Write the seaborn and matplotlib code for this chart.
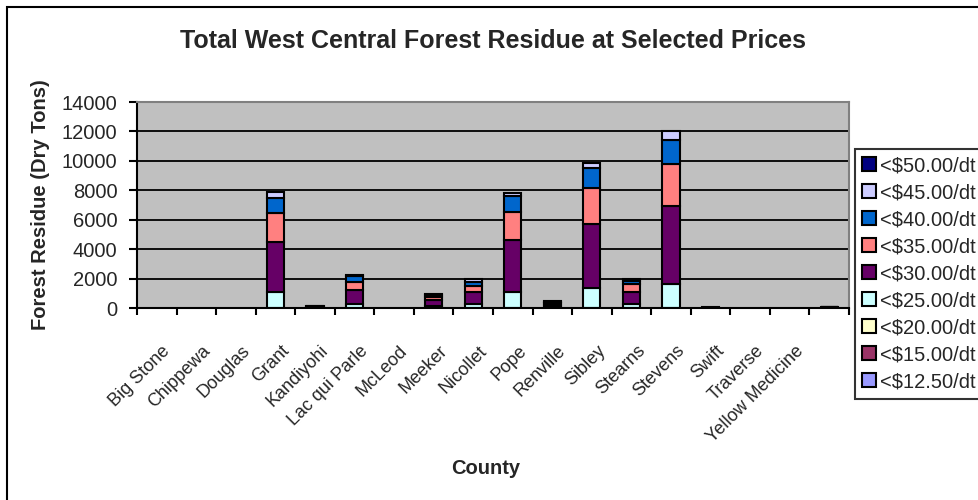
import numpy as np
import pandas as pd
import matplotlib
matplotlib.use("Agg")
import matplotlib.pyplot as plt
from matplotlib.patches import Patch, Rectangle
from matplotlib.transforms import ScaledTranslation
import seaborn as sns

# counties along x (last slot has no label in the original)
counties = ["Big Stone", "Chippewa", "Douglas", "Grant", "Kandiyohi",
            "Lac qui Parle", "McLeod", "Meeker", "Nicollet", "Pope",
            "Renville", "Sibley", "Stearns", "Stevens", "Swift",
            "Traverse", "Yellow Medicine", ""]

# price classes, top of stack first (same order as legend)
prices = ["<$50.00/dt", "<$45.00/dt", "<$40.00/dt", "<$35.00/dt",
          "<$30.00/dt", "<$25.00/dt", "<$20.00/dt", "<$15.00/dt",
          "<$12.50/dt"]
colors = ["#000080", "#CCCCFF", "#0066CC", "#FF8080", "#660066",
          "#CCFFFF", "#FFFFCC", "#993366", "#9999FF"]

# dry tons per county
tons_50 = [0, 0, 0, 0, 0, 0, 0, 0, 0, 0, 20, 0, 0, 0, 0, 0, 0, 0]
tons_45 = [0, 0, 0, 400, 10, 70, 0, 60, 200, 230, 40, 370, 110, 570, 0, 0, 0, 10]
tons_40 = [0, 0, 0, 1020, 10, 390, 0, 120, 230, 1080, 70, 1350, 220, 1650, 0, 0, 0, 10]
tons_35 = [0, 0, 0, 1970, 20, 560, 0, 200, 410, 1920, 90, 2470, 530, 2860, 10, 0, 0, 20]
tons_30 = [0, 0, 0, 3390, 40, 950, 0, 420, 830, 3510, 150, 4310, 830, 5310, 15, 0, 0, 30]
tons_25 = [0, 0, 0, 1080, 40, 270, 0, 130, 270, 1100, 80, 1380, 270, 1630, 15, 0, 0, 30]
tons_20 = [0, 0, 0, 0, 0, 0, 0, 0, 0, 0, 0, 0, 0, 0, 0, 0, 0, 0]
tons_15 = [0, 0, 0, 0, 0, 0, 0, 0, 0, 0, 0, 0, 0, 0, 0, 0, 0, 0]
tons_12 = [0, 0, 0, 0, 0, 0, 0, 0, 0, 0, 0, 0, 0, 0, 0, 0, 0, 0]

series = dict(zip(prices, [tons_50, tons_45, tons_40, tons_35, tons_30,
                           tons_25, tons_20, tons_15, tons_12]))
rows = []
for price, vals in series.items():
    for i, v in enumerate(vals):
        rows.append((i, price, v))
df = pd.DataFrame(rows, columns=["pos", "price", "tons"])

sns.set_style("white")
plt.rcParams["font.family"] = ["Liberation Sans", "DejaVu Sans"]

fig = plt.figure(figsize=(9.79, 5.0), dpi=100)
ax = fig.add_axes([137 / 979, 1 - 308 / 500, 712 / 979, 206 / 500])
ax.set_facecolor("#C0C0C0")

sns.histplot(data=df, x="pos", weights="tons", hue="price", hue_order=prices,
             multiple="stack", discrete=True, shrink=0.43,
             palette=dict(zip(prices, colors)), edgecolor="black",
             linewidth=1.5, alpha=1, legend=False, ax=ax)
for p in ax.patches:
    if p.get_height() == 0:
        p.set_visible(False)

ax.set_ylim(0, 14000)
ax.set_yticks(range(0, 14001, 2000))
ax.set_xlim(-0.5, 17.5)
ax.grid(axis="y", color="black", linewidth=1.3)
ax.grid(axis="x", visible=False)
ax.set_axisbelow(True)

for s in ["left", "bottom"]:
    ax.spines[s].set_color("black")
    ax.spines[s].set_linewidth(1.5)
for s in ["top", "right"]:
    ax.spines[s].set_color("#808080")
    ax.spines[s].set_linewidth(1.5)

ax.tick_params(axis="y", length=6, width=1.5, pad=8, labelsize=14.5,
               direction="out", left=True, color="black")
ax.set_xticks(np.arange(-0.5, 18, 1))
ax.set_xticklabels([])
ax.tick_params(axis="x", which="major", length=5, width=1.5,
               direction="out", bottom=True, color="black")
ax.set_xticks(range(18), minor=True)
ax.set_xticklabels(counties, minor=True, rotation=45, ha="right",
                   va="center", rotation_mode="anchor", fontsize=13)
ax.tick_params(axis="x", which="minor", length=0, pad=29)
for lab in ax.get_xticklabels(minor=True):
    lab.set_transform(lab.get_transform()
                      + ScaledTranslation(0.11, 0, fig.dpi_scale_trans))

ax.set_ylabel("Forest Residue (Dry Tons)", fontsize=14.5, fontweight="bold")
ax.yaxis.set_label_coords(-0.122, 0.5)
ax.set_xlabel("County", fontsize=14.5, fontweight="bold", va="top")
ax.xaxis.set_label_coords(0.49, -0.733)

fig.text(493 / 979, 1 - 41 / 500, "Total West Central Forest Residue at Selected Prices",
         ha="center", va="center", fontsize=18, fontweight="bold")

handles = [Patch(facecolor=c, edgecolor="black", linewidth=1.5) for c in colors]
leg = fig.legend(handles, prices, loc="upper left",
                 bbox_to_anchor=(855 / 979, 1 - 149 / 500), borderaxespad=0,
                 fontsize=14.5, frameon=True, fancybox=False,
                 handlelength=0.7, handleheight=0.7, handletextpad=0.2,
                 labelspacing=0.4, borderpad=0.35)
leg.get_frame().set_edgecolor("black")
leg.get_frame().set_linewidth(1.5)

fig.patches.append(Rectangle((7 / 979, -0.1), 1.2, 1 - 7 / 500 + 0.1,
                             transform=fig.transFigure, fill=False,
                             edgecolor="black", linewidth=1.5))

fig.savefig("out.png", dpi=100)
